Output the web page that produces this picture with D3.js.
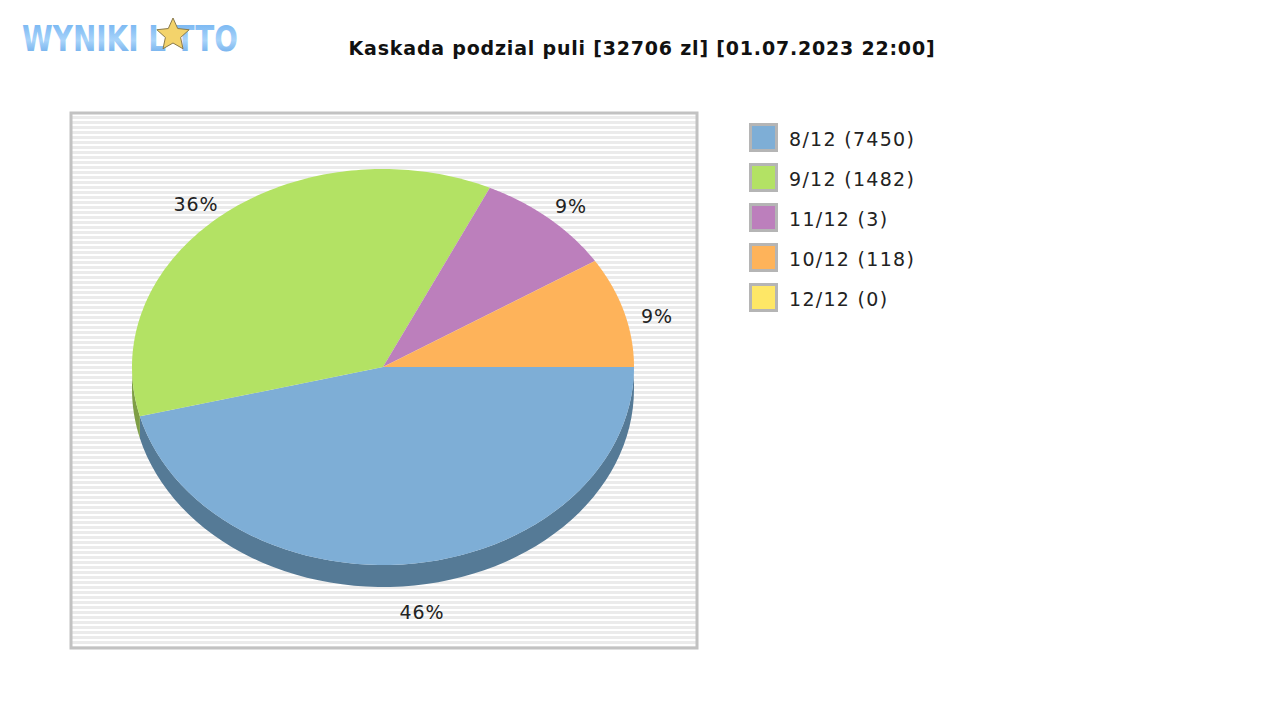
<!DOCTYPE html>
<html><head><meta charset="utf-8">
<script src="https://cdn.jsdelivr.net/npm/d3@7"></script>
<style>body{margin:0;background:#fff}</style></head>
<body><svg id="c" width="1280" height="720"></svg>
<script>
const labels = ["8/12 (7450)","9/12 (1482)","11/12 (3)","10/12 (118)","12/12 (0)"];
const shares = [46,36,9,9,0];
const colors = ["#7eaed6","#b3e264","#bc7fbc","#feb35a","#fee766"];
const darks  = ["#557a96","#7e9e46","#845984","#b27d3f","#b2a147"];
const pctLabels = ["46%","36%","9%","9%",""];

const svg = d3.select("#c");
const lg = svg.append("g");
const lgGrad = svg.append("defs").append("linearGradient").attr("id","lgg").attr("x1",0).attr("x2",0).attr("y1",0).attr("y2",1);
lgGrad.append("stop").attr("offset","0%").attr("stop-color","#6aaef0");
lgGrad.append("stop").attr("offset","55%").attr("stop-color","#a9d4fa");
lgGrad.append("stop").attr("offset","100%").attr("stop-color","#5aa0e6");
lg.append("text").attr("x",22).attr("y",51).attr("font-family","DejaVu Sans Condensed").attr("font-weight","bold").attr("font-size",36)
  .attr("fill","url(#lgg)").attr("textLength",216).attr("lengthAdjust","spacingAndGlyphs").text("WYNIKI L  TTO");
const star = d3.range(10).map(i=>{const a=-Math.PI/2+i*Math.PI/5, r=i%2?8:17;return [173+r*Math.cos(a),35+r*Math.sin(a)];});
lg.append("polygon").attr("points",star.join(" ")).attr("fill","#f3d36b").attr("stroke","#8a7a4a").attr("stroke-width",1);

svg.append("text").attr("x",642).attr("y",55).attr("text-anchor","middle").attr("font-family","DejaVu Sans").attr("font-weight","bold").attr("font-size",19).attr("letter-spacing",0.8).attr("fill","#111")
  .text("Kaskada podzial puli [32706 zl] [01.07.2023 22:00]");

const px=71,py=113,pw=626,ph=535;
svg.append("rect").attr("x",px).attr("y",py).attr("width",pw).attr("height",ph).attr("fill","#fff");
const ys = d3.range(py+3, py+ph, 5);
svg.selectAll("rect.s").data(ys).join("rect").attr("x",px).attr("y",d=>d).attr("width",pw).attr("height",3).attr("fill","#ebebeb");
svg.append("rect").attr("x",px).attr("y",py).attr("width",pw).attr("height",ph).attr("fill","none").attr("stroke","#c2c2c2").attr("stroke-width",3);

const cx=383,cy=367,rx=251,ry=198,depth=22;
const pie=d3.pie().sort(null).value(d=>d).startAngle(0).endAngle(2*Math.PI)(shares);
const pt=(a)=>[cx+rx*Math.cos(a),cy+ry*Math.sin(a)];
pie.forEach((s,i)=>{
  const a0=Math.max(s.startAngle,0),a1=Math.min(s.endAngle,Math.PI);
  if(a1<=a0) return;
  const n=60, top=d3.range(n+1).map(k=>pt(a0+(a1-a0)*k/n)), bot=top.map(p=>[p[0],p[1]+depth]).reverse();
  svg.append("path").attr("d",d3.line()(top.concat(bot))+"Z").attr("fill",darks[i]);
});
pie.forEach((s,i)=>{
  if(s.endAngle<=s.startAngle) return;
  const n=120, pts=[[cx,cy]].concat(d3.range(n+1).map(k=>pt(s.startAngle+(s.endAngle-s.startAngle)*k/n)));
  svg.append("path").attr("d",d3.line()(pts)+"Z").attr("fill",colors[i]);
});
const lblPos=[[422,619],[196,211],[571,213],[657,323]];
pctLabels.forEach((t,i)=>{
  if(!t) return;
  svg.append("text").attr("x",lblPos[i][0]).attr("y",lblPos[i][1]).attr("text-anchor","middle").attr("font-family","DejaVu Sans").attr("font-size",19).attr("letter-spacing",1).attr("fill","#222").text(t);
});
const lgd=svg.selectAll("g.l").data(labels).join("g").attr("transform",(d,i)=>`translate(749,${123+i*40})`);
lgd.append("rect").attr("width",29).attr("height",29).attr("fill","#b5b5b5");
lgd.append("rect").attr("x",3).attr("y",3).attr("width",23).attr("height",23).attr("fill",(d,i)=>colors[i]);
lgd.append("text").attr("x",40).attr("y",23).attr("font-family","DejaVu Sans").attr("font-size",19).attr("letter-spacing",1.3).attr("fill","#222").text(d=>d);
</script></body></html>
